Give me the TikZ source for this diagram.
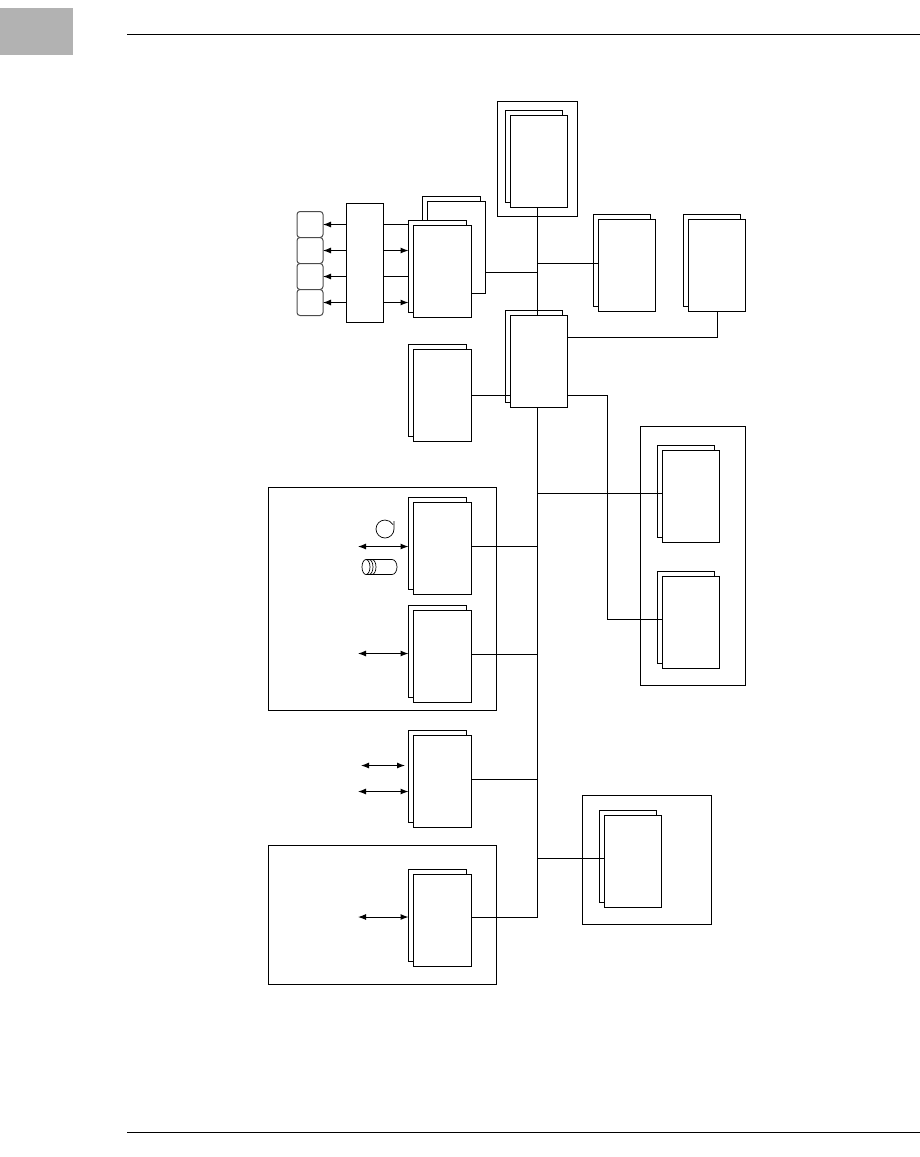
\documentclass[tikz,border=0pt]{standalone}
\usepackage{tikz}
\usetikzlibrary{arrows.meta,positioning}
\definecolor{tabgray}{gray}{0.70}

\begin{document}
\begin{tikzpicture}[x=1pt, y=-1pt, line width=1pt,
    sheet/.style={draw=black, fill=white, inner sep=0pt, outer sep=0pt, anchor=north west,
      minimum height=92.5pt},
    frame/.style={draw=black, fill=white, inner sep=0pt, outer sep=0pt, anchor=north west},
    term/.style={draw=black!70, fill=white, rounded corners=3pt, inner sep=0pt, outer sep=0pt,
      minimum width=26pt, minimum height=26pt},
    oneway/.style={-{Latex[length=8pt,width=6pt]}},
    twoway/.style={{Latex[length=8pt,width=6pt]}-{Latex[length=8pt,width=6pt]}}]
  \useasboundingbox (0,0) rectangle (920,1157);
  \fill[tabgray] (0,8) rectangle (73,55);
  \draw (127,34.5) -- (920,34.5);
  \draw (127,1132.5) -- (920,1132.5);

  % enclosures
  \foreach \nm/\x/\y/\w/\h in {
    hostframe/497.5/101.5/79.5/115,
    storeframe/640.5/426.5/105/259,
    diskframe/268.5/487.5/228/223,
    netframe/268.5/845.5/228/139,
    linkframe/582.5/795.5/129/129} {
      \node[frame, minimum width=\w pt, minimum height=\h pt] (\nm) at (\x,\y) {};
  }

  % paired sheets
  \foreach \nm/\x/\y/\w in {
    host/510/115/57.5, mem/427.5/201/58, term/413.5/225/58, ioa/598/219/57.5, iob/688/219/57.5,
    core/510/315/57.5, aux/413.5/349/58, stoa/662/450/57.5, stob/662/576/57.5,
    disk/413.5/502/58, tape/413.5/610/58, line/413.5/735/58, net/413.5/874/58, link/604/815/57.5} {
      \node[sheet, minimum width=\w pt] (\nm back) at (\x-5,\y-5) {};
      \node[sheet, minimum width=\w pt] (\nm) at (\x,\y) {};
  }

  % terminals and multiplexer
  \foreach \i/\y in {1/224.5, 2/250.5, 3/276.5, 4/302.5}
    \node[term] (t\i) at (310,\y) {};
  \node[frame, minimum width=37pt, minimum height=119pt] (mux) at (346.5,203.5) {};
  \foreach \i in {1,...,4}
    \draw[oneway] (mux.west |- t\i) -- (t\i.east);
  \draw (mux.east |- t1) -- (termback.west |- t1);
  \draw[oneway] (mux.east |- t2) -- (termback.west |- t2);
  \draw (mux.east |- t3) -- (termback.west |- t3);
  \draw[oneway] (mux.east |- t4) -- (termback.west |- t4);

  % bus
  \coordinate (busmem) at (537.5,272);
  \coordinate (busio) at (537.5,263.5);
  \coordinate (busend) at (537.5,917);
  \draw (host.south -| busio) -- (core.north -| busio);
  \draw (core.south -| busio) -- (busend);
  \draw (mem.east |- busmem) -- (busmem);
  \draw (busio) -- (ioa.west |- busio);

  \coordinate (corea) at (717.5,337);
  \draw (core.east |- corea) -- (corea) -- (iob.south -| corea);
  \coordinate (coreb) at (567.5,395.5);
  \draw (aux.east |- coreb) -- (core.west |- coreb);
  \coordinate (bendb) at (607.5,395.5);
  \coordinate (bendc) at (607.5,619.5);
  \draw (coreb) -- (bendb) -- (bendc) -- (stob.west |- bendc);
  \coordinate (busa) at (537.5,493);
  \draw (busa) -- (stoa.west |- busa);
  \coordinate (busb) at (537.5,858.5);
  \draw (busb) -- (link.west |- busb);

  \foreach \nm/\y in {disk/546.5, tape/654, line/779, net/917}
    \draw (\nm.east |- 0,\y) -- (537.5,\y);

  % external links
  \foreach \nm/\from/\y in {disk/358/546.5, tape/358/653.5, line/358/791.5, net/358/917} {
    \coordinate (\nm end) at (\from,\y);
    \draw[twoway] (\nm end) -- (\nm back.west |- \nm end);
  }
  \coordinate (lineup) at (361,765.5);
  \draw[twoway] (lineup) -- (405,765.5);

  % tape reel
  \draw[line width=0.7pt] (394,521) -- (394,529) arc[start angle=0, end angle=-330, radius=9pt];
  % disk pack
  \draw[line width=0.7pt] (366,559.5) -- (392,559.5) arc[start angle=90, end angle=-90, x radius=5pt, y radius=7.5pt]
    -- (366,574.5) arc[start angle=270, end angle=90, x radius=4pt, y radius=7.5pt];
  \draw[line width=0.7pt] (366,559.5) arc[start angle=90, end angle=-90, x radius=4pt, y radius=7.5pt];
  \draw[line width=0.7pt] (369,559.5) arc[start angle=90, end angle=-90, x radius=4pt, y radius=7.5pt];
  \draw[line width=0.7pt] (372,559.5) arc[start angle=90, end angle=-90, x radius=4pt, y radius=7.5pt];
\end{tikzpicture}
\end{document}
